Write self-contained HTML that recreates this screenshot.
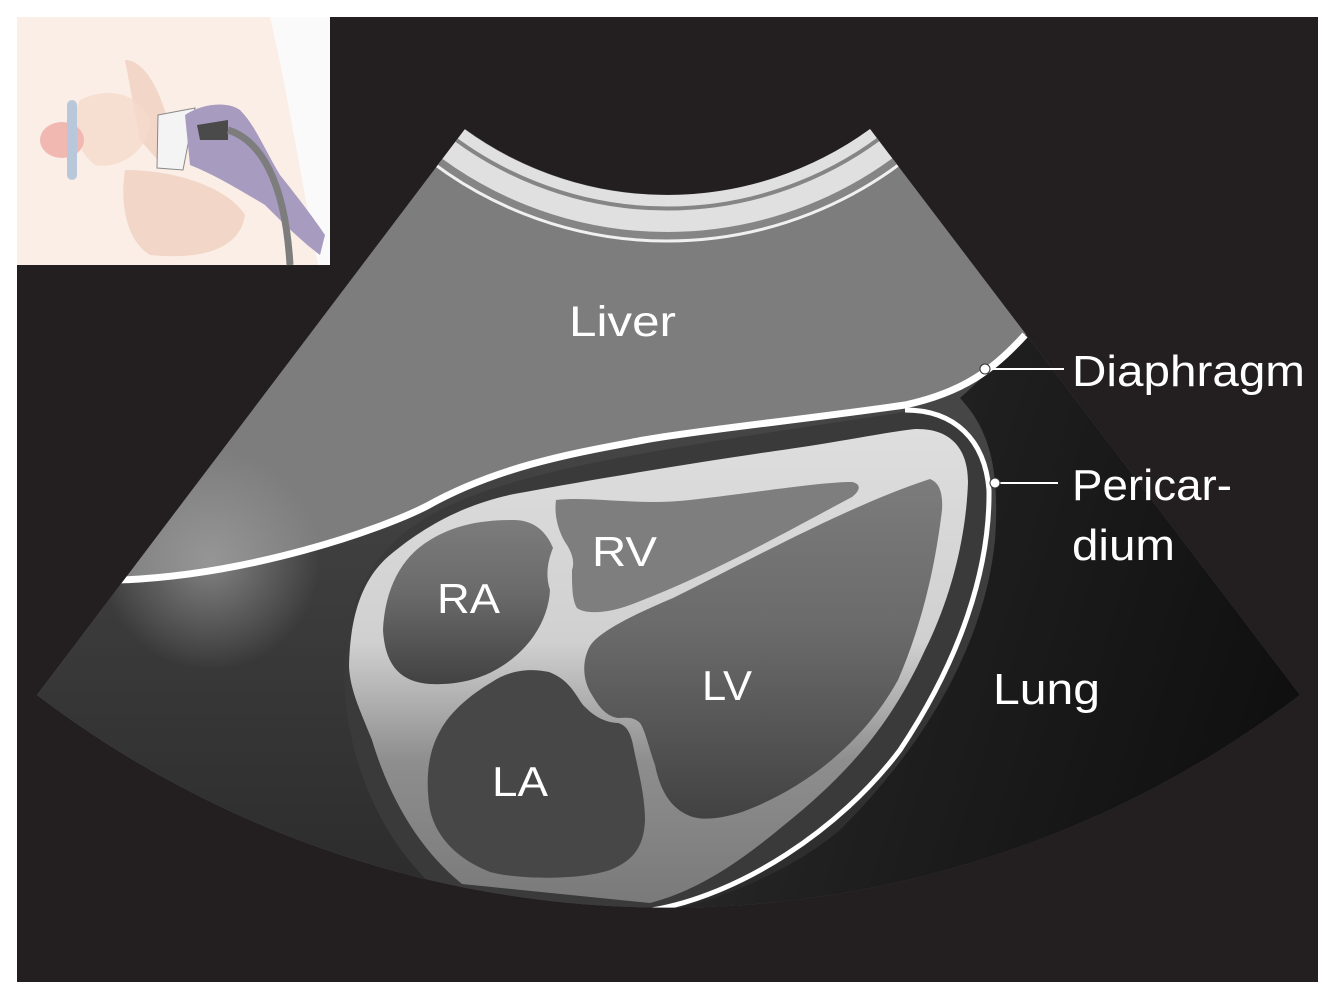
<!DOCTYPE html>
<html><head><meta charset="utf-8"><style>
html,body{margin:0;padding:0;background:#fff;}
svg{display:block;}
text{font-family:"Liberation Sans",sans-serif;fill:#fff;font-weight:normal;}
</style></head><body>
<svg width="1335" height="999" viewBox="0 0 1335 999" xmlns="http://www.w3.org/2000/svg">
<defs>
<clipPath id="fan"><path d="M465,129 A344,344 0 0 0 870,129 L1300,695 A1044,1044 0 0 1 37,695 Z"/></clipPath>
<linearGradient id="dark" x1="0" y1="0" x2="0" y2="1"><stop offset="0" stop-color="#4a4a4a"/><stop offset="1" stop-color="#262626"/></linearGradient>
<linearGradient id="lung" x1="0" y1="0" x2="1" y2="0.3"><stop offset="0" stop-color="#303030"/><stop offset="0.5" stop-color="#1e1e1e"/><stop offset="1" stop-color="#101010"/></linearGradient>
<linearGradient id="myo" x1="0" y1="0" x2="0" y2="1"><stop offset="0" stop-color="#dedede"/><stop offset="0.45" stop-color="#d0d0d0"/><stop offset="0.7" stop-color="#8e8e8e"/><stop offset="1" stop-color="#7a7a7a"/></linearGradient>
<linearGradient id="cham" x1="0" y1="0" x2="0" y2="1"><stop offset="0" stop-color="#7c7c7c"/><stop offset="0.45" stop-color="#6a6a6a"/><stop offset="1" stop-color="#424242"/></linearGradient>
<radialGradient id="glow" cx="210" cy="560" r="110" gradientUnits="userSpaceOnUse"><stop offset="0" stop-color="#a0a0a0" stop-opacity="0.7"/><stop offset="1" stop-color="#a0a0a0" stop-opacity="0"/></radialGradient>
</defs>
<rect x="17" y="17" width="1301" height="965" fill="#231f20"/>
<g clip-path="url(#fan)">
<rect x="0" y="0" width="1335" height="999" fill="#7d7d7d"/>
<circle cx="667" cy="-149" r="366" fill="none" stroke="#e0e0e0" stroke-width="44"/>
<circle cx="667" cy="-149" r="357.5" fill="none" stroke="#858585" stroke-width="4"/>
<circle cx="667" cy="-149" r="385" fill="none" stroke="#858585" stroke-width="8"/>
<circle cx="667" cy="-149" r="390" fill="none" stroke="#f0f0f0" stroke-width="3"/>
<path d="M1025,335 C995,368 965,392 905,405 C800,420 700,430 644,440 C580,452 500,465 427,506 C380,530 250,575 120,580 L0,585 L0,999 L1335,999 L1335,335 Z" fill="url(#dark)"/>
<rect x="60" y="440" width="300" height="240" fill="url(#glow)"/>
<path d="M1025,335 C1000,360 975,385 960,398 C990,430 1000,470 995,540 C985,640 930,740 840,830 C780,880 700,905 650,915 L1335,999 L1335,335 Z" fill="url(#lung)"/>
<path d="M1025,335 C995,368 965,392 905,405 C800,420 700,430 644,440 C580,452 500,465 427,506 C380,530 250,575 120,580" fill="none" stroke="#fff" stroke-width="7"/>
<!-- pericardium dark band -->
<path d="M440,510 C520,470 650,450 905,412 C960,412 988,440 990,500 C988,600 940,720 860,800 C790,865 700,900 650,912 L450,900 C370,840 338,730 345,650 C350,580 390,535 440,510 Z" fill="#3a3a3a"/>
<path d="M905,410 C955,410 985,440 989,490 C990,570 960,660 900,750 C840,830 740,895 652,910" fill="none" stroke="#fff" stroke-width="5"/>
<!-- myocardium -->
<path d="M349,666 C350,620 360,580 390,555 C420,530 460,505 514,494 C600,478 700,462 775,451 C840,442 880,433 915,429 C952,428 968,450 968,482 C966,540 950,600 925,650 C893,720 853,770 783,826 C742,860 700,890 650,903 L462,884 C420,850 390,800 372,740 C360,710 350,690 349,666 Z" fill="url(#myo)"/>
<!-- RA -->
<path d="M553,548 C545,528 530,520 514,520 C480,520 455,525 430,540 C400,558 385,590 383,630 C385,665 400,682 430,684 C470,686 500,672 522,650 C540,632 549,610 550,590 C545,575 548,560 553,548 Z" fill="url(#cham)"/>
<!-- RV -->
<path d="M556,500 C590,496 640,506 690,500 C760,492 820,482 852,482 C862,484 860,491 852,497 C790,530 710,575 630,605 C605,614 585,614 577,608 C572,600 572,585 572,570 C575,562 572,552 565,542 C558,530 554,515 556,500 Z" fill="#7e7e7e"/>
<!-- LV -->
<path d="M930,479 C940,483 943,494 942,510 C936,560 924,620 898,680 C862,745 802,790 742,812 C717,820 700,820 690,816 C670,808 660,790 655,765 C648,745 645,730 640,723 C633,716 625,718 618,718 C605,716 598,705 592,695 C582,680 582,660 590,646 C600,630 640,612 673,598 C750,560 850,505 930,479 Z" fill="url(#cham)"/>
<!-- LA -->
<path d="M549,672 C530,668 510,670 492,682 C470,695 450,712 440,731 C428,752 425,780 430,810 C437,840 460,860 490,872 C520,880 580,880 610,870 C635,860 644,845 645,820 C645,795 638,770 633,745 C630,730 625,725 618,723 C600,722 590,712 583,705 C576,696 570,680 549,672 Z" fill="#474747"/>
</g>
<!-- labels -->
<text x="569" y="336" font-size="43" textLength="107" lengthAdjust="spacingAndGlyphs">Liver</text>
<text x="592" y="566" font-size="42" textLength="65" lengthAdjust="spacingAndGlyphs">RV</text>
<text x="437" y="613" font-size="42" textLength="63" lengthAdjust="spacingAndGlyphs">RA</text>
<text x="702" y="700" font-size="42" textLength="50" lengthAdjust="spacingAndGlyphs">LV</text>
<text x="492" y="796" font-size="42" textLength="56" lengthAdjust="spacingAndGlyphs">LA</text>
<text x="993" y="704" font-size="44" textLength="107" lengthAdjust="spacingAndGlyphs">Lung</text>
<text x="1072" y="386" font-size="44" textLength="233" lengthAdjust="spacingAndGlyphs">Diaphragm</text>
<text x="1072" y="500" font-size="44" textLength="160" lengthAdjust="spacingAndGlyphs">Pericar-</text>
<text x="1072" y="560" font-size="44" textLength="103" lengthAdjust="spacingAndGlyphs">dium</text>
<line x1="985" y1="369" x2="1064" y2="369" stroke="#fff" stroke-width="2"/>
<circle cx="985" cy="369" r="5" fill="#fff" stroke="#333" stroke-width="1"/>
<line x1="995" y1="483" x2="1058" y2="483" stroke="#fff" stroke-width="2"/>
<circle cx="995" cy="483" r="5" fill="#fff" stroke="#333" stroke-width="1"/>
<!-- inset -->
<g>
<rect x="17" y="17" width="313" height="248" fill="#fbeee6"/>
<path d="M270,17 C285,80 298,160 318,265 L330,265 L330,17 Z" fill="#fafafa"/>
<path d="M125,60 C150,60 170,110 175,160 C165,175 150,150 140,140 Z" fill="#f0cfc0" opacity="0.8"/>
<path d="M125,170 C180,170 230,190 245,215 C240,250 200,260 150,255 C125,240 120,200 125,170 Z" fill="#f0cfc0" opacity="0.8"/>
<path d="M80,100 C110,85 140,95 150,120 C150,150 120,170 95,165 C75,150 70,120 80,100 Z" fill="#f5d9cc" opacity="0.8"/>
<ellipse cx="62" cy="140" rx="22" ry="18" fill="#f0b8b0"/>
<rect x="67" y="100" width="10" height="80" rx="5" fill="#b8c8da"/>
<path d="M158,115 L195,108 L183,170 L157,168 Z" fill="#f4f4f4" stroke="#888" stroke-width="1"/>
<path d="M185,115 C200,105 225,100 240,110 C255,125 265,150 280,175 C300,200 315,220 325,235 L320,255 C300,240 280,220 265,205 C240,190 215,175 190,165 Z" fill="#a89bc0"/>
<path d="M197,125 L228,120 L228,140 L200,140 Z" fill="#4a4a4a"/>
<path d="M228,130 C260,140 285,180 290,265" fill="none" stroke="#7d7d7d" stroke-width="7"/>
</g>
</svg>
</body></html>
